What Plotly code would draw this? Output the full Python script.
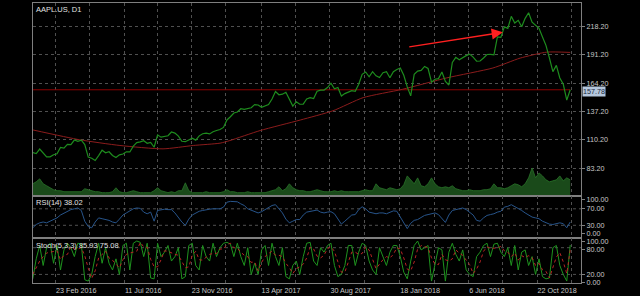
import plotly.graph_objects as go
import pandas as pd

# ---------------- data (weekly readings from the chart) ----------------
dates = list(pd.date_range("2016-01-08", "2018-12-28", freq="W-FRI").strftime("%Y-%m-%d"))

close = [
    98.0, 97.13, 101.42, 97.34, 94.02, 93.99, 96.04, 96.91, 103.01, 102.26,
    105.92, 105.67, 109.99, 108.66, 109.85, 105.68, 93.74, 92.72, 90.52, 95.22,
    100.35, 97.92, 98.83, 95.33, 93.40, 95.89, 96.68, 98.78, 98.66, 104.21,
    107.48, 108.18, 109.36, 106.94, 107.73, 103.13, 114.92, 112.71, 113.05, 114.06,
    117.63, 116.60, 113.72, 108.84, 108.43, 110.06, 111.79, 109.90, 113.95, 115.97,
    116.52, 115.82,
    117.91, 119.04, 120.00, 121.95, 129.08, 132.12, 135.72, 136.66, 139.78, 139.14,
    139.99, 140.64, 143.66, 143.34, 141.05, 142.27, 143.65, 148.96, 156.10, 153.06,
    153.61, 155.45, 148.98, 142.27, 146.28, 144.02, 144.18, 149.04, 150.27, 149.50,
    156.39, 157.48, 157.50, 159.86, 164.05, 158.63, 159.88, 151.89, 154.12, 155.30,
    156.99, 156.25, 163.05, 172.50, 174.67, 170.15, 174.97, 171.05, 169.37, 173.97,
    175.01, 169.23,
    175.00, 177.09, 178.46, 171.51, 160.50, 152.00, 172.43, 175.50, 176.21, 179.98,
    178.02, 164.94, 167.78, 168.38, 174.73, 165.72, 162.32, 183.83, 188.59, 186.31,
    188.58, 190.24, 191.70, 188.84, 184.92, 185.11, 187.97, 191.33, 191.44, 190.98,
    207.99, 207.53, 217.58, 216.16, 227.63, 221.30, 223.84, 217.66, 225.74, 231.00,
    222.11, 219.31, 216.30, 208.00, 200.00, 188.00, 175.00, 181.00, 169.00, 163.00,
    148.00, 157.78,
]

volume = [
    12, 14, 17, 12, 10, 8, 6, 5, 5, 4,
    4, 4, 4, 4, 4, 7, 6, 5, 4, 4,
    3, 3, 3, 4, 8, 4, 3, 3, 4, 5,
    4, 3, 3, 3, 3, 5, 8, 5, 4, 3,
    4, 3, 5, 5, 13, 5, 3, 3, 3, 3,
    4, 3, 3, 3, 3, 4, 6, 4, 4, 3,
    3, 3, 4, 3, 3, 3, 3, 3, 4, 5,
    6, 9, 5, 7, 12, 8, 6, 5, 5, 4,
    4, 5, 6, 5, 4, 4, 4, 5, 4, 5,
    4, 4, 4, 4, 4, 5, 6, 5, 5, 12,
    8, 7, 6, 8, 7, 6, 7, 11, 20, 16,
    12, 18, 10, 9, 12, 18, 12, 9, 8, 9,
    8, 10, 7, 6, 5, 5, 6, 5, 5, 5,
    6, 6, 7, 12, 8, 8, 7, 8, 10, 12,
    11, 9, 12, 18, 28, 18, 23, 20, 16, 14,
    15, 16, 20, 15, 18, 16,
]

rsi = [
    24, 32, 36, 38, 36, 40, 44, 48, 55, 60,
    64, 68, 70, 72, 66, 40, 27, 24, 38, 48,
    46, 44, 42, 38, 36, 45, 55, 60, 66, 70,
    72, 71, 62, 58, 62, 40, 66, 68, 69, 68,
    68, 60, 48, 38, 30, 45, 55, 60, 64, 66,
    68, 69, 70, 70, 70, 74, 86, 88, 87, 87,
    82, 78, 70, 66, 62, 60, 63, 68, 72, 78,
    80, 70, 60, 45, 36, 40, 44, 44, 55, 62,
    64, 66, 67, 62, 60, 62, 63, 58, 45, 33,
    40, 48, 55, 56, 68, 75, 70, 62, 60, 58,
    60, 60, 58, 62, 65, 64, 50, 33, 22, 35,
    42, 44, 50, 54, 56, 58, 60, 56, 46, 37,
    55, 66, 68, 70, 72, 68, 62, 55, 42, 40,
    48, 54, 56, 58, 62, 64, 74, 76, 80, 76,
    70, 66, 60, 54, 50, 48, 46, 40, 36, 33,
    32, 34, 36, 34, 24, 38.02,
]

stoch_k = [
    10, 55, 85, 40, 80, 90, 45, 85, 30, 75,
    90, 80, 60, 90, 88, 8, 5, 20, 60, 90,
    45, 80, 45, 30, 55, 20, 85, 90, 30, 90,
    95, 92, 60, 90, 12, 10, 90, 60, 70, 85,
    50, 60, 80, 10, 15, 85, 90, 40, 30, 85,
    60, 50, 90, 60, 80, 90, 92, 88, 60, 90,
    60, 40, 80, 20, 45, 20, 75, 85, 40, 90,
    60, 40, 80, 15, 10, 40, 50, 20, 60, 90,
    92, 50, 40, 80, 70, 85, 90, 40, 15, 20,
    40, 85, 85, 40, 70, 90, 85, 50, 30, 20,
    80, 60, 40, 70, 85, 85, 60, 25, 10, 50,
    85, 95, 75, 80, 85, 5, 40, 80, 75, 5,
    70, 90, 65, 50, 75, 30, 20, 15, 60, 70,
    85, 90, 60, 88, 90, 70, 60, 80, 40, 85,
    30, 70, 75, 40, 60, 20, 55, 15, 10, 12,
    80, 85, 40, 20, 5, 85.93,
]

stoch_d = [
    20, 35, 50, 60, 68, 70, 72, 73, 53, 63,
    65, 82, 77, 77, 80, 62, 34, 11, 28, 57,
    65, 72, 57, 52, 43, 35, 53, 65, 68, 70,
    72, 92, 82, 81, 54, 37, 37, 53, 73, 72,
    68, 65, 63, 50, 35, 37, 63, 72, 53, 52,
    58, 65, 67, 67, 77, 77, 87, 90, 80, 79,
    70, 63, 60, 47, 48, 28, 47, 60, 67, 72,
    63, 63, 60, 45, 35, 22, 33, 37, 43, 57,
    81, 77, 61, 57, 63, 78, 82, 72, 48, 25,
    25, 48, 70, 70, 65, 67, 82, 75, 55, 33,
    43, 53, 60, 57, 65, 80, 77, 57, 32, 28,
    48, 77, 85, 83, 80, 57, 43, 42, 65, 53,
    50, 55, 75, 68, 63, 52, 42, 22, 32, 48,
    72, 82, 78, 79, 79, 83, 73, 70, 60, 68,
    52, 62, 58, 62, 58, 40, 45, 30, 27, 12,
    34, 59, 69, 48, 22, 75.08,
]

ma_dates = ["2016-01-08", "2016-04-12", "2016-07-02", "2016-09-27", "2016-11-27",
            "2017-01-20", "2017-02-09", "2017-04-11", "2017-07-01", "2017-09-05",
            "2017-11-05", "2018-01-23", "2018-04-23", "2018-07-25", "2018-09-18",
            "2018-11-11", "2018-12-28"]
ma_vals = [119.6, 110.2, 104.8, 101.6, 104.8,
           107.0, 109.5, 119.0, 129.0, 137.8,
           150.3, 158.2, 169.1, 178.5, 187.9,
           193.6, 193.3]

last_price = 157.78
price_ticks = [83.2, 110.2, 137.2, 164.2, 191.2, 218.2]
rsi_levels = [70, 30]
stoch_levels = [80, 20]
date_grid = ["2016-02-23", "2016-05-02", "2016-07-11", "2016-09-16", "2016-11-23",
             "2017-02-01", "2017-04-13", "2017-06-21", "2017-08-30", "2017-11-08",
             "2018-01-18", "2018-03-28", "2018-06-06", "2018-08-14", "2018-10-22",
             "2018-12-30"]
date_text = ["23 Feb 2016", "", "11 Jul 2016", "", "23 Nov 2016", "", "13 Apr 2017", "",
             "30 Aug 2017", "", "18 Jan 2018", "", "6 Jun 2018", "", "22 Oct 2018", ""]
arrow_from = ("2018-02-03", 198.3)
arrow_to = ("2018-08-14", 212.4)

# ---------------- styling ----------------
BG = "black"
FRAME = "#7f7f7f"
GRID = "#505050"
TXT = "#c8c8c8"
FONT = "Liberation Sans"
FS = 7.2
XR = ["2016-01-08 12:00", "2019-01-18 18:00"]

fig = go.Figure()

fig.add_trace(go.Scatter(x=dates, y=volume, xaxis="x", yaxis="y4", mode="lines",
                         line=dict(color="#2a742a", width=0.8), fill="tozeroy",
                         fillcolor="#1a4a1a", hoverinfo="skip"))
fig.add_trace(go.Scatter(x=[dates[0], dates[-1]], y=[last_price, last_price], xaxis="x", yaxis="y",
                         mode="lines", line=dict(color="#8b0000", width=1), hoverinfo="skip"))
fig.add_trace(go.Scatter(x=ma_dates, y=ma_vals, xaxis="x", yaxis="y", mode="lines",
                         line=dict(color="#8b1c1c", width=1, shape="spline", smoothing=0.6)))
fig.add_trace(go.Scatter(x=dates, y=close, xaxis="x", yaxis="y", mode="lines",
                         line=dict(color="#1e8c1e", width=1.2)))

fig.add_trace(go.Scatter(x=dates, y=rsi, xaxis="x2", yaxis="y2", mode="lines",
                         line=dict(color="#27548a", width=1)))
fig.add_trace(go.Scatter(x=dates, y=stoch_k, xaxis="x3", yaxis="y3", mode="lines",
                         line=dict(color="#1e931e", width=1)))
fig.add_trace(go.Scatter(x=dates, y=stoch_d, xaxis="x3", yaxis="y3", mode="lines",
                         line=dict(color="#b82424", width=1, dash="dot")))

xcommon = dict(range=XR, showline=True, mirror=True, linecolor=FRAME, linewidth=1,
               tickmode="array", tickvals=date_grid, showgrid=True, gridcolor=GRID,
               griddash="3px,3px", gridwidth=1, zeroline=False, ticks="")
ycommon = dict(side="right", showline=True, mirror=True, linecolor=FRAME, linewidth=1,
               zeroline=False, ticks="outside", ticklen=3, tickcolor=FRAME,
               tickfont=dict(family=FONT, size=FS, color=TXT), tickmode="array")

fig.update_layout(
    width=640, height=296, margin=dict(l=33, r=59, t=1, b=12),
    paper_bgcolor=BG, plot_bgcolor=BG, showlegend=False,
    font=dict(family=FONT, size=FS, color=TXT),
    xaxis=dict(**xcommon, anchor="y", domain=[0, 1], showticklabels=False),
    xaxis2=dict(**xcommon, anchor="y2", domain=[0, 1], matches="x", showticklabels=False),
    xaxis3=dict(**xcommon, anchor="y3", domain=[0, 1], matches="x", ticktext=date_text,
                ticklabelposition="outside right",
                tickfont=dict(family=FONT, size=FS, color=TXT)),
    yaxis=dict(**ycommon, anchor="x", domain=[0.312, 1.0], range=[57.1, 240.3],
               tickvals=price_ticks, ticktext=[f"{v:.2f}" for v in price_ticks],
               showgrid=True, gridcolor=GRID, griddash="3px,3px"),
    yaxis4=dict(overlaying="y", anchor="x", range=[0, 195], visible=False),
    yaxis2=dict(**ycommon, anchor="x2", domain=[0.159, 0.312], range=[-1.9, 101.9],
                tickvals=[91.5, 70, 30, 10.8],
                ticktext=["100.00", "70.00", "30.00", "0.00"], showgrid=False),
    yaxis3=dict(**ycommon, anchor="x3", domain=[0, 0.159], range=[0.7, 100.7],
                tickvals=[94.6, 76.8, 20, 2.3],
                ticktext=["100.00", "80.00", "20.00", "0.00"], showgrid=False),
)

for ax, yref, levels in (("x2", "y2", rsi_levels), ("x3", "y3", stoch_levels)):
    for lv in levels:
        fig.add_shape(type="line", xref=f"{ax} domain", x0=0, x1=1, yref=yref, y0=lv, y1=lv,
                      line=dict(color=GRID, width=1, dash="3px,3px"), layer="below")

fig.add_annotation(xref="x domain", yref="y domain", x=0.002, y=0.998, xanchor="left",
                   yanchor="top", text="AAPL.US, D1", showarrow=False,
                   font=dict(family=FONT, size=7.5, color="#e0e0e0"))
fig.add_annotation(xref="x2 domain", yref="y2 domain", x=0.002, y=0.99, xanchor="left",
                   yanchor="top", text="RSI(14) 38.02", showarrow=False,
                   font=dict(family=FONT, size=7.5, color="#e0e0e0"))
fig.add_annotation(xref="x3 domain", yref="y3 domain", x=0.002, y=0.99, xanchor="left",
                   yanchor="top", text="Stoch(5,3,3) 85.93 75.08", showarrow=False,
                   font=dict(family=FONT, size=7.5, color="#e0e0e0"))
fig.add_annotation(xref="paper", yref="y", x=1.0018, y=last_price, xanchor="left",
                   yanchor="middle", yshift=-2, text=f"{last_price:.2f}", showarrow=False,
                   bgcolor="#b4c6dc", borderpad=0,
                   font=dict(family=FONT, size=FS, color="#1a2a40"))
fig.add_annotation(xref="x", yref="y", x=arrow_to[0], y=arrow_to[1],
                   axref="x", ayref="y", ax=arrow_from[0], ay=arrow_from[1],
                   text="", showarrow=True, arrowhead=2, arrowsize=1.6, arrowwidth=1.4,
                   arrowcolor="#ff2020", standoff=0)

fig.write_html("out.html")
